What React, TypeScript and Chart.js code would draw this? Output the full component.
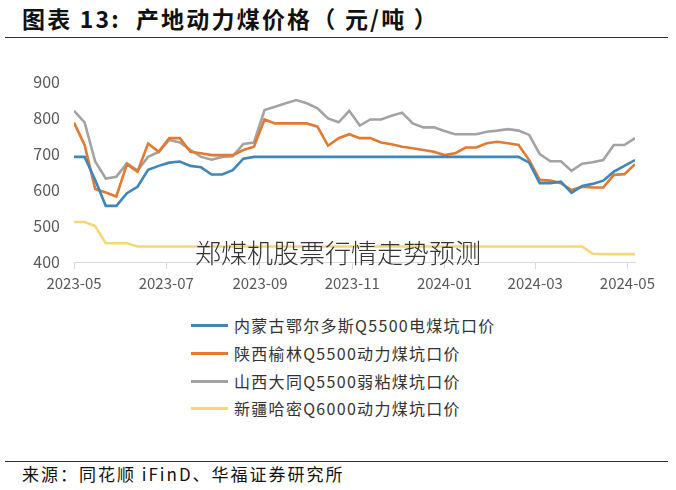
import { useEffect, useRef } from 'react';
import { Chart, registerables } from 'chart.js';

Chart.register(...registerables);

const weekDates = [
  '2023-05-01', '2023-05-08', '2023-05-15', '2023-05-22', '2023-05-29',
  '2023-06-05', '2023-06-12', '2023-06-19', '2023-06-26', '2023-07-03',
  '2023-07-10', '2023-07-17', '2023-07-24', '2023-07-31', '2023-08-07',
  '2023-08-14', '2023-08-21', '2023-08-28', '2023-09-04', '2023-09-11',
  '2023-09-18', '2023-09-25', '2023-10-02', '2023-10-09', '2023-10-16',
  '2023-10-23', '2023-10-30', '2023-11-06', '2023-11-13', '2023-11-20',
  '2023-11-27', '2023-12-04', '2023-12-11', '2023-12-18', '2023-12-25',
  '2024-01-01', '2024-01-08', '2024-01-15', '2024-01-22', '2024-01-29',
  '2024-02-05', '2024-02-12', '2024-02-19', '2024-02-26', '2024-03-04',
  '2024-03-11', '2024-03-18', '2024-03-25', '2024-04-01', '2024-04-08',
  '2024-04-15', '2024-04-22', '2024-04-29', '2024-05-06',
];

const innerMongolia = [
  692, 692, 628, 556, 556, 591, 609, 656, 667, 676,
  679, 667, 663, 643, 643, 655, 687, 692, 692, 692,
  692, 692, 692, 692, 692, 692, 692, 692, 692, 692,
  692, 692, 692, 692, 692, 692, 692, 692, 692, 692,
  692, 692, 692, 676, 619, 619, 623, 592, 611, 617,
  626, 651, 667, 683,
];

const shaanxiYulin = [
  787, 725, 603, 593, 582, 672, 651, 729, 706, 744,
  744, 706, 702, 697, 697, 697, 711, 720, 796, 785,
  785, 785, 785, 776, 723, 744, 755, 744, 744, 732,
  727, 720, 716, 711, 706, 697, 702, 718, 718, 730,
  734, 730, 725, 683, 628, 626, 619, 600, 609, 607,
  607, 642, 644, 672,
];

const shanxiDatong = [
  820, 788, 679, 632, 637, 674, 654, 692, 706, 739,
  732, 711, 692, 684, 692, 694, 728, 732, 822, 831,
  841, 850, 841, 827, 799, 788, 820, 779, 796, 796,
  806, 815, 785, 774, 774, 764, 755, 755, 755, 762,
  765, 769, 765, 753, 700, 680, 680, 653, 673, 677,
  683, 725, 725, 744,
];

const xinjiangHami = [
  511, 511, 500, 452, 452, 452, 443, 443, 443, 443,
  443, 443, 443, 443, 443, 443, 443, 443, 443, 443,
  443, 443, 443, 443, 443, 443, 443, 443, 443, 443,
  443, 443, 443, 443, 443, 443, 443, 443, 443, 443,
  443, 443, 443, 443, 443, 443, 443, 443, 443, 423,
  422, 422, 422, 422,
];

const seriesNames = [
  '内蒙古鄂尔多斯Q5500电煤坑口价',
  '陕西榆林Q5500动力煤坑口价',
  '山西大同Q5500弱粘煤坑口价',
  '新疆哈密Q6000动力煤坑口价',
];
const seriesColors = ['#3f86ba', '#e27a31', '#a3a3a3', '#f4d874'];

const xTickLabels = ['2023-05', '2023-07', '2023-09', '2023-11', '2024-01', '2024-03', '2024-05'];
const yMin = 400;
const yMax = 900;
const yStep = 100;

const startDate = '2023-05-01';
const endDate = '2024-05-08';

const titleText = '图表 13:  产地动力煤价格（ 元/吨 ）';
const sourceText = '来源：同花顺 iFinD、华福证券研究所';
const watermarkText = '郑煤机股票行情走势预测';

export default function App() {
  const ref = useRef<HTMLCanvasElement>(null);

  useEffect(() => {
    const base = Date.parse(startDate);
    const toDay = (s: string) => Math.round((Date.parse(s) - base) / 86400000);
    const allSeries = [innerMongolia, shaanxiYulin, shanxiDatong, xinjiangHami];
    const tickDays = xTickLabels.map((l) => toDay(l + '-01'));

    const chart = new Chart(ref.current as HTMLCanvasElement, {
      type: 'line',
      data: {
        datasets: allSeries.map((vals, k) => ({
          label: seriesNames[k],
          data: vals.map((v, i) => ({ x: toDay(weekDates[i]), y: v })),
          borderColor: seriesColors[k],
          backgroundColor: seriesColors[k],
          borderWidth: 2.6,
          pointRadius: 0,
          tension: 0,
          fill: false,
        })),
      },
      options: {
        animation: false,
        responsive: false,
        maintainAspectRatio: false,
        layout: { padding: { left: 0, right: 41, top: 82, bottom: 0 } },
        plugins: { legend: { display: false }, tooltip: { enabled: false } },
        scales: {
          x: {
            type: 'linear',
            min: 0,
            max: toDay(endDate) - 2,
            afterBuildTicks: (axis: any) => {
              axis.ticks = tickDays.map((v) => ({ value: v }));
            },
            afterFit: (s: any) => {
              s.height = 38;
            },
            ticks: {
              autoSkip: false,
              maxRotation: 0,
              padding: 5,
              color: '#595959',
              font: { family: "'Noto Sans CJK SC', 'Noto Sans', sans-serif", size: 15 },
              callback: (v: any) => {
                const idx = tickDays.indexOf(Number(v));
                return idx >= 0 ? xTickLabels[idx] : '';
              },
            },
            grid: { drawOnChartArea: false, drawTicks: true, tickLength: 7, color: '#d9d9d9' },
            border: { color: '#d9d9d9' },
          },
          y: {
            min: yMin,
            max: yMax,
            afterFit: (s: any) => {
              s.width = 74;
            },
            ticks: {
              stepSize: yStep,
              padding: 14,
              color: '#595959',
              font: { family: "'Noto Sans CJK SC', 'Noto Sans', sans-serif", size: 16 },
            },
            grid: { display: false, drawTicks: false },
            border: { display: false },
          },
        },
      },
    });
    return () => chart.destroy();
  }, []);

  const legendTop = [325, 353, 381, 408];

  return (
    <div
      style={{
        position: 'absolute',
        left: 0,
        top: 0,
        width: 676,
        height: 490,
        background: '#fff',
        overflow: 'hidden',
        fontFamily: "'Noto Sans CJK SC', sans-serif",
      }}
    >
      <div
        style={{
          position: 'absolute',
          left: 22,
          top: 3,
          fontSize: 23,
          fontWeight: 700,
          color: '#111',
          whiteSpace: 'pre',
          lineHeight: '30px',
          letterSpacing: 2.2,
        }}
      >
        {titleText}
      </div>
      <div style={{ position: 'absolute', left: 5, width: 663, top: 37, height: 0, borderTop: '1px solid #333' }} />
      <canvas ref={ref} width={676} height={300} style={{ position: 'absolute', left: 0, top: 0, width: 676, height: 300 }} />
      {seriesNames.map((name, k) => (
        <div key={name}>
          <div
            style={{
              position: 'absolute',
              left: 191,
              top: legendTop[k] - 1.5,
              width: 37,
              height: 3,
              background: seriesColors[k],
            }}
          />
          <div
            style={{
              position: 'absolute',
              left: 234,
              top: legendTop[k] - 11,
              height: 22,
              lineHeight: '22px',
              fontSize: 16,
              letterSpacing: 1.3,
              color: '#333',
              whiteSpace: 'nowrap',
            }}
          >
            {name}
          </div>
        </div>
      ))}
      <div
        style={{
          position: 'absolute',
          left: 195,
          top: 235,
          fontSize: 26,
          lineHeight: '34px',
          color: '#333',
          fontWeight: 300,
          whiteSpace: 'nowrap',
        }}
      >
        {watermarkText}
      </div>
      <div style={{ position: 'absolute', left: 5, width: 663, top: 461, height: 0, borderTop: '1px solid #333' }} />
      <div
        style={{
          position: 'absolute',
          left: 22,
          top: 463,
          fontSize: 17,
          lineHeight: '22px',
          color: '#111',
          whiteSpace: 'nowrap',
          letterSpacing: 2,
        }}
      >
        {sourceText}
      </div>
    </div>
  );
}
